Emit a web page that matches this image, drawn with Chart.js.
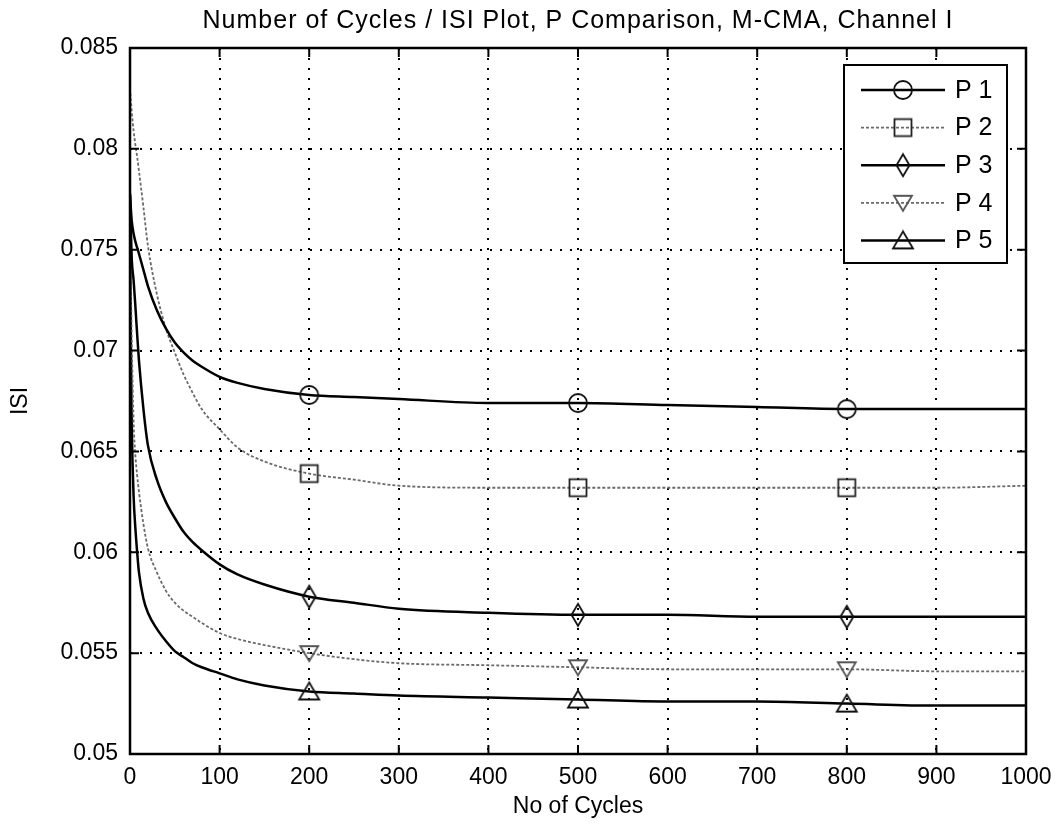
<!DOCTYPE html>
<html>
<head>
<meta charset="utf-8">
<script src="https://cdn.jsdelivr.net/npm/chart.js@4.4.1/dist/chart.umd.min.js"></script>
<style>
  html, body { margin: 0; padding: 0; background: #fff; }
  canvas { display: block; }
</style>
</head>
<body>
<canvas id="chart" width="1062" height="832"></canvas>
<script>
// Number of cycles (x) and ISI per P setting (y)
const cycles = [0, 1, 2, 4, 6, 8, 10, 15, 20, 30, 40, 50, 60, 70, 80, 100, 120, 150, 200, 250, 300, 400, 500, 600, 700, 800, 900, 1000];
const isiP1 = [0.0778, 0.0770, 0.0764, 0.0758, 0.0754, 0.0751, 0.0748, 0.0740, 0.0732, 0.0720, 0.0711, 0.0704, 0.0699, 0.0695, 0.0692, 0.0687, 0.0684, 0.0681, 0.0678, 0.0677, 0.0676, 0.0674, 0.0674, 0.0673, 0.0672, 0.0671, 0.0671, 0.0671];
const isiP2 = [0.0830, 0.0824, 0.0818, 0.0809, 0.0802, 0.0796, 0.0789, 0.0771, 0.0752, 0.0728, 0.0711, 0.0699, 0.0688, 0.0679, 0.0671, 0.0661, 0.0652, 0.0645, 0.0639, 0.0636, 0.0633, 0.0632, 0.0632, 0.0632, 0.0632, 0.0632, 0.0632, 0.0633];
const isiP3 = [0.0777, 0.0760, 0.0745, 0.0735, 0.0722, 0.0708, 0.0695, 0.0671, 0.0653, 0.0636, 0.0625, 0.0617, 0.0610, 0.0605, 0.0601, 0.0594, 0.0589, 0.0584, 0.0578, 0.0575, 0.0572, 0.0570, 0.0569, 0.0569, 0.0568, 0.0568, 0.0568, 0.0568];
const isiP4 = [0.0770, 0.0735, 0.0705, 0.0665, 0.0648, 0.0638, 0.0630, 0.0614, 0.0602, 0.0590, 0.0581, 0.0575, 0.0571, 0.0568, 0.0565, 0.0560, 0.0557, 0.0554, 0.0550, 0.0547, 0.0545, 0.0544, 0.0543, 0.0542, 0.0542, 0.0542, 0.0541, 0.0541];
const isiP5 = [0.0765, 0.0700, 0.0662, 0.0628, 0.0612, 0.0600, 0.0590, 0.0577, 0.0570, 0.0562, 0.0556, 0.0551, 0.0548, 0.0545, 0.0543, 0.0540, 0.0537, 0.0534, 0.0531, 0.0530, 0.0529, 0.0528, 0.0527, 0.0526, 0.0526, 0.0525, 0.0524, 0.0524];

const seriesNames = ['P 1', 'P 2', 'P 3', 'P 4', 'P 5'];
const markerCycles = [200, 500, 800];
const xTickLabels = ['0', '100', '200', '300', '400', '500', '600', '700', '800', '900', '1000'];
const yTickLabels = ['0.05', '0.055', '0.06', '0.065', '0.07', '0.075', '0.08', '0.085'];

const titleText = 'Number of Cycles / ISI Plot, P Comparison, M-CMA, Channel I';
const xTitle = 'No of Cycles';
const yTitle = 'ISI';

const FONT = '"Liberation Sans", Arial, sans-serif';
const BLACK = '#000000';
const GREY = '#6a6a6a';

// Unfilled marker glyphs drawn onto small canvases
function makeMarker(shape, color) {
  const c = document.createElement('canvas');
  const g = c.getContext('2d');
  if (shape === 'circle') {
    c.width = 22; c.height = 22;
    g.strokeStyle = color; g.lineWidth = 1.8;
    g.beginPath(); g.arc(11, 11, 9, 0, Math.PI * 2); g.stroke();
  } else if (shape === 'square') {
    c.width = 22; c.height = 22;
    g.strokeStyle = color; g.lineWidth = 1.8;
    g.strokeRect(2.5, 2.5, 17, 17);
  } else if (shape === 'diamond') {
    c.width = 18; c.height = 26;
    g.strokeStyle = color; g.lineWidth = 1.8;
    g.beginPath(); g.moveTo(9, 2); g.lineTo(15.5, 13); g.lineTo(9, 24); g.lineTo(2.5, 13); g.closePath(); g.stroke();
  } else if (shape === 'triDown') {
    c.width = 22; c.height = 20;
    g.strokeStyle = color; g.lineWidth = 1.8;
    g.beginPath(); g.moveTo(2, 3); g.lineTo(20, 3); g.lineTo(11, 18); g.closePath(); g.stroke();
  } else {
    c.width = 24; c.height = 22;
    g.strokeStyle = color; g.lineWidth = 1.8;
    g.beginPath(); g.moveTo(12, 2); g.lineTo(22, 19); g.lineTo(2, 19); g.closePath(); g.stroke();
  }
  return c;
}

const seriesValues = [isiP1, isiP2, isiP3, isiP4, isiP5];
const seriesStyles = [
  { color: BLACK, width: 2.5, dash: [], marker: makeMarker('circle', '#111') },
  { color: GREY, width: 1.8, dash: [3, 2], marker: makeMarker('square', '#222') },
  { color: BLACK, width: 2.5, dash: [], marker: makeMarker('diamond', '#111') },
  { color: GREY, width: 1.8, dash: [3, 2], marker: makeMarker('triDown', '#555') },
  { color: BLACK, width: 2.5, dash: [], marker: makeMarker('triUp', '#111') }
];

const datasets = seriesValues.map((vals, i) => ({
  label: seriesNames[i],
  data: cycles.map((x, j) => ({ x: x, y: vals[j] })),
  borderColor: seriesStyles[i].color,
  borderWidth: seriesStyles[i].width,
  borderDash: seriesStyles[i].dash,
  pointStyle: seriesStyles[i].marker,
  pointRadius: ctx => (ctx.raw && markerCycles.includes(ctx.raw.x)) ? 9 : 0,
  pointHoverRadius: 0,
  cubicInterpolationMode: 'monotone',
  fill: false
}));

// Plot frame with inward tick marks on all four sides
const framePlugin = {
  id: 'frame',
  afterDatasetsDraw(chart) {
    const { ctx, chartArea: a, scales } = chart;
    ctx.save();
    ctx.strokeStyle = BLACK;
    ctx.lineWidth = 2;
    const tl = 9;
    ctx.beginPath();
    scales.x.ticks.forEach(t => {
      const px = scales.x.getPixelForValue(t.value);
      ctx.moveTo(px, a.bottom); ctx.lineTo(px, a.bottom - tl);
      ctx.moveTo(px, a.top); ctx.lineTo(px, a.top + tl);
    });
    scales.y.ticks.forEach(t => {
      const py = scales.y.getPixelForValue(t.value);
      ctx.moveTo(a.left, py); ctx.lineTo(a.left + tl, py);
      ctx.moveTo(a.right, py); ctx.lineTo(a.right - tl, py);
    });
    ctx.stroke();
    ctx.lineWidth = 2.5;
    ctx.strokeRect(a.left, a.top, a.right - a.left, a.bottom - a.top);
    ctx.restore();
  }
};

// Title and boxed legend (line sample with marker) in the upper right
const decorPlugin = {
  id: 'decor',
  afterDraw(chart) {
    const { ctx, chartArea: a } = chart;
    ctx.save();
    ctx.fillStyle = BLACK;
    ctx.font = '25px ' + FONT;
    if ('letterSpacing' in ctx) ctx.letterSpacing = '1px';
    ctx.textAlign = 'center';
    ctx.textBaseline = 'middle';
    ctx.fillText(titleText, (a.left + a.right) / 2, 21);
    if ('letterSpacing' in ctx) ctx.letterSpacing = '0px';

    const bx = 844, by = 65, bw = 163, bh = 198;
    ctx.fillStyle = '#fff';
    ctx.fillRect(bx, by, bw, bh);
    ctx.strokeStyle = BLACK;
    ctx.lineWidth = 2;
    ctx.strokeRect(bx, by, bw, bh);

    seriesNames.forEach((name, i) => {
      const s = seriesStyles[i];
      const y = by + 25 + i * 37.6;
      ctx.save();
      ctx.strokeStyle = s.color;
      ctx.lineWidth = s.width;
      ctx.setLineDash(s.dash);
      ctx.beginPath(); ctx.moveTo(861, y); ctx.lineTo(945, y); ctx.stroke();
      ctx.restore();
      ctx.drawImage(s.marker, 903 - s.marker.width / 2, y - s.marker.height / 2);
      ctx.fillStyle = BLACK;
      ctx.font = '25px ' + FONT;
      ctx.textAlign = 'left';
      ctx.textBaseline = 'middle';
      ctx.fillText(name, 955, y + 1);
    });
    ctx.restore();
  }
};

new Chart(document.getElementById('chart'), {
  type: 'line',
  data: { datasets: datasets },
  plugins: [framePlugin, decorPlugin],
  options: {
    responsive: false,
    animation: false,
    devicePixelRatio: 1,
    layout: { padding: { left: 0, right: 36, top: 48, bottom: 0 } },
    plugins: {
      legend: { display: false },
      tooltip: { enabled: false },
      title: { display: false }
    },
    events: [],
    scales: {
      x: {
        type: 'linear',
        min: 0,
        max: 1000,
        ticks: {
          stepSize: 100,
          padding: 10,
          color: BLACK,
          font: { family: FONT, size: 23 },
          maxRotation: 0,
          callback: v => xTickLabels.find(t => Number(t) === v) ?? ''
        },
        grid: { color: BLACK, lineWidth: 2, drawTicks: false },
        border: { display: false, dash: [2, 8] },
        title: {
          display: true,
          text: xTitle,
          color: BLACK,
          font: { family: FONT, size: 23 },
          padding: { top: 0, bottom: 12 }
        },
        afterFit: s => { s.height = 78; }
      },
      y: {
        type: 'linear',
        min: 0.05,
        max: 0.085,
        ticks: {
          stepSize: 0.005,
          padding: 12,
          color: BLACK,
          font: { family: FONT, size: 23 },
          callback: v => yTickLabels.find(t => Math.abs(Number(t) - v) < 1e-9) ?? ''
        },
        grid: { color: BLACK, lineWidth: 2, drawTicks: false },
        border: { display: false, dash: [2, 8] },
        title: {
          display: true,
          text: yTitle,
          color: BLACK,
          font: { family: FONT, size: 23 },
          padding: { top: 7, bottom: 0 }
        },
        afterFit: s => { s.width = 130; }
      }
    }
  }
});
</script>
</body>
</html>
